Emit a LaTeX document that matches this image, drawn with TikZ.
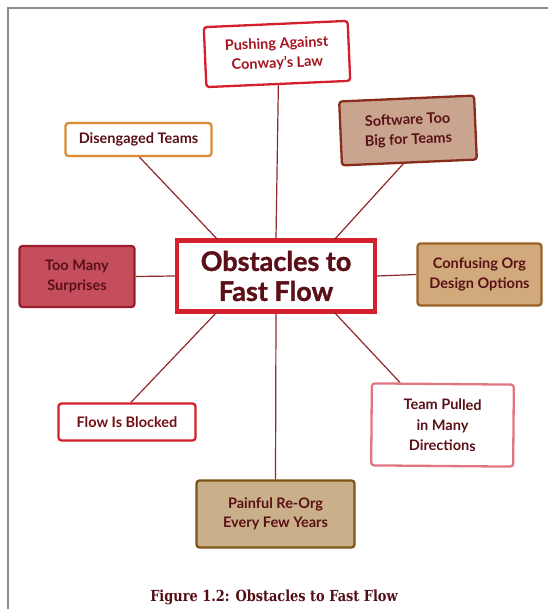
\documentclass[tikz,border=0pt]{standalone}
\usepackage{fontspec}
\setmainfont{Lato}
\newfontfamily\capfont[FakeStretch=0.85]{DejaVu Serif}
\newfontfamily\hubfont[FakeBold=1.2]{Lato Bold}
\definecolor{frame}{HTML}{8C8C8C}
\definecolor{wire}{HTML}{8E2A2A}
\definecolor{redline}{HTML}{D3202C}
\definecolor{redtext}{HTML}{A3141F}
\definecolor{maroon}{HTML}{5A1016}
\definecolor{orangeline}{HTML}{D98A32}
\definecolor{tanfill}{HTML}{C9A48E}
\definecolor{tanline}{HTML}{8A2C1C}
\definecolor{crimfill}{HTML}{C44E5C}
\definecolor{crimline}{HTML}{9C1E2C}
\definecolor{ochrefill}{HTML}{D0AA7A}
\definecolor{ochreline}{HTML}{9A6226}
\definecolor{khakifill}{HTML}{C9B08A}
\definecolor{khakiline}{HTML}{7E5418}
\definecolor{pinkline}{HTML}{E27680}
\begin{document}
\begin{tikzpicture}[x=1pt,y=-1pt,
  box/.style={draw, rounded corners=3pt, line width=2.3pt, align=center,
    inner sep=0pt, font=\fontsize{14.5}{19.5}\selectfont\bfseries, text=maroon},
  hubbox/.style={draw=redline, fill=white, line width=4.5pt, align=center,
    inner sep=0pt, text=maroon,
    font=\hubfont\fontsize{27}{30}\selectfont},
  link/.style={draw=wire, line width=1.2pt}]
\useasboundingbox (0,0) rectangle (548,609);
\fill[white] (0,0) rectangle (548,609);
\draw[frame, line width=1.6pt] (8,609) -- (8,8) -- (548,8);

% points on the hub border where the diagonal spokes end
\coordinate (hubA) at (218,240);
\coordinate (hubB) at (334,240);
\coordinate (hubC) at (217,312);
\coordinate (hubD) at (334,312);

\node[hubbox, minimum width=198pt, minimum height=71pt] (hub) at (276,276) {Obstacles to\\Fast Flow};

\node[box, draw=redline, fill=white, text=redtext, rotate=2.5,
  minimum width=144pt, minimum height=60pt] (conway) at (277,54) {Pushing Against\\Conway’s Law};
\node[box, draw=orangeline, fill=white, minimum width=146pt, minimum height=33pt]
  (diseng) at (138.5,139.5) {Disengaged Teams};
\node[box, draw=tanline, fill=tanfill, rotate=2.5,
  minimum width=135pt, minimum height=64pt] (soft) at (408,130.5) {Software Too\\Big for Teams};
\node[box, draw=crimline, fill=crimfill, minimum width=115pt, minimum height=61pt]
  (surp) at (77,276.5) {Too Many\\Surprises};
\node[box, draw=ochreline, fill=ochrefill, minimum width=124pt, minimum height=62pt]
  (conf) at (479.5,274.5) {Confusing Org\\Design Options};
\node[box, draw=redline, fill=white, text=maroon!85!red, minimum width=137pt, minimum height=37pt]
  (flow) at (127,422) {Flow Is Blocked};
\node[box, draw=pinkline, fill=white, rotate=-0.5,
  minimum width=142pt, minimum height=82pt, font=\fontsize{14.5}{20.5}\selectfont\bfseries]
  (team) at (442.5,425) {Team Pulled\\in Many\\Directions};
\node[box, draw=khakiline, fill=khakifill, minimum width=158pt, minimum height=67pt]
  (reorg) at (275.5,514) {Painful Re-Org\\Every Few Years};

% spokes from the hub to the surrounding boxes
\path[link] (conway.south) -- (hub.north);
\path[link] (hub.south) -- (reorg.north);
\path[link] (diseng.south) ++(1,0) coordinate (dS) -- (hubA);
\path[link] (soft.south) ++(-6,0) coordinate (sS) -- (hubB);
\path[link] (surp.east) -- (hub.west);
\path[link] (hub.east) -- (conf.west);
\path[link] (flow.north) ++(4,0) coordinate (fN) -- (hubC);
\path[link] (team.north west) ++(29,0) coordinate (tN) -- (hubD);

\node[text=maroon!90!black, font=\capfont\fontsize{15.2}{17}\selectfont\bfseries]
  (cap) at (274,597) {Figure 1.2: Obstacles to Fast Flow};
\end{tikzpicture}
\end{document}
